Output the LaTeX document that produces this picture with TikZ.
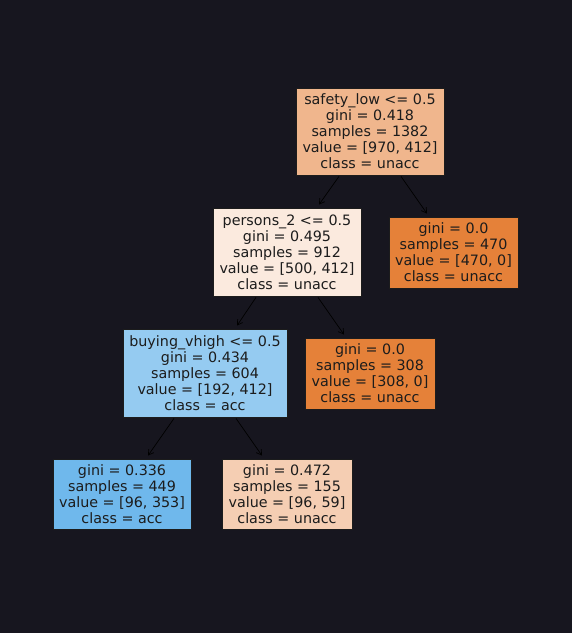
\documentclass[tikz,border=0pt]{standalone}
\usepackage{fontspec}
\setmainfont{DejaVu Sans}
\usetikzlibrary{arrows.meta}
\definecolor{bgc}{RGB}{23,22,31}
\definecolor{cRoot}{RGB}{240,182,141}
\definecolor{cPers}{RGB}{251,234,222}
\definecolor{cOr}{RGB}{229,129,57}
\definecolor{cBuy}{RGB}{149,203,241}
\definecolor{cBlue}{RGB}{111,184,236}
\definecolor{cPeach}{RGB}{245,206,179}
\definecolor{ink}{RGB}{28,28,28}
\tikzset{
  treenode/.style={draw=ink, line width=0.8pt, text=ink, align=center, inner sep=0pt,
    font=\fontsize{14.3}{16}\selectfont},
  arr/.style={draw=black, line width=0.7pt, -{Straight Barb[length=5pt,width=6pt]}}
}
\begin{document}
\begin{tikzpicture}[x=1pt,y=1pt]
\fill[bgc] (0,0) rectangle (572,633);
\useasboundingbox (0,0) rectangle (572,633);
\node[treenode, fill=cRoot, minimum width=148pt, minimum height=87pt] (root) at (370,501.5)
  {safety\_low <= 0.5\\gini = 0.418\\samples = 1382\\value = [970, 412]\\class = unacc};
\node[treenode, fill=cPers, minimum width=148pt, minimum height=88pt] (pers) at (287,381)
  {persons\_2 <= 0.5\\gini = 0.495\\samples = 912\\value = [500, 412]\\class = unacc};
\node[treenode, fill=cOr, minimum width=129pt, minimum height=71pt] (la) at (453.5,380.5)
  {gini = 0.0\\samples = 470\\value = [470, 0]\\class = unacc};
\node[treenode, fill=cBuy, minimum width=164pt, minimum height=88pt] (buy) at (205,260)
  {buying\_vhigh <= 0.5\\gini = 0.434\\samples = 604\\value = [192, 412]\\class = acc};
\node[treenode, fill=cOr, minimum width=130pt, minimum height=71pt] (lb) at (370,259.5)
  {gini = 0.0\\samples = 308\\value = [308, 0]\\class = unacc};
\node[treenode, fill=cBlue, minimum width=138pt, minimum height=70pt] (lc) at (122,139)
  {gini = 0.336\\samples = 449\\value = [96, 353]\\class = acc};
\node[treenode, fill=cPeach, minimum width=130pt, minimum height=70pt] (ld) at (287,139)
  {gini = 0.472\\samples = 155\\value = [96, 59]\\class = unacc};
\draw[arr] ([shift={(-31,-1)}]root.south) -- ([shift={(32,3)}]pers.north);
\draw[arr] ([shift={(31,-1)}]root.south) -- ([shift={(-26.5,3)}]la.north);
\draw[arr] ([shift={(-31,-1)}]pers.south) -- ([shift={(32,3)}]buy.north);
\draw[arr] ([shift={(31,-1)}]pers.south) -- ([shift={(-26,3)}]lb.north);
\draw[arr] ([shift={(-31,-1)}]buy.south) -- ([shift={(26,3)}]lc.north);
\draw[arr] ([shift={(31,-1)}]buy.south) -- ([shift={(-25,3)}]ld.north);
\end{tikzpicture}
\end{document}
